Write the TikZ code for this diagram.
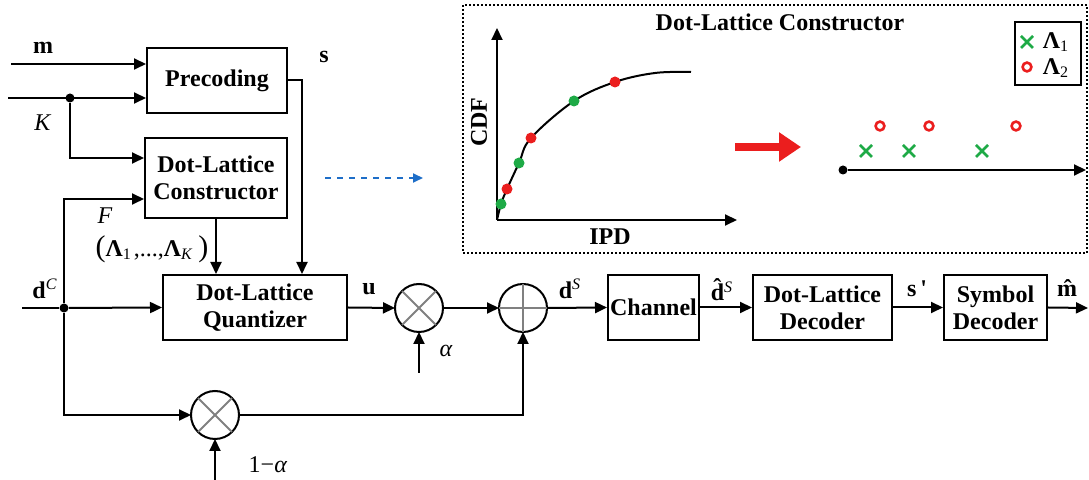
\documentclass[tikz,border=0pt]{standalone}
\usepackage{fontspec}
\setmainfont{Liberation Serif}
\usetikzlibrary{arrows.meta, positioning}
\definecolor{ptgreen}{RGB}{30,170,70}
\definecolor{ptred}{RGB}{235,30,30}
\definecolor{dashblue}{RGB}{30,110,200}
\newcommand{\hatd}{\textbf{\rlap{\kern0.11em\raisebox{0.22em}{ˆ}}d}}

\begin{document}
\begin{tikzpicture}[
        x=0.5pt, y=-0.5pt,
        font=\fontsize{12}{13.5}\selectfont,
        blk/.style={rectangle, draw, line width=1pt, inner sep=0pt, align=center, font=\fontsize{12}{13.5}\selectfont\bfseries},
        mix/.style={circle, draw, line width=1pt, minimum size=24pt, inner sep=0pt, outer sep=0pt},
        jdot/.style={circle, fill, minimum size=4.5pt, inner sep=0pt},
        arr/.style={-{Triangle[length=6pt, width=5.5pt]}, line width=1pt},
        cross/.style={gray, line width=1pt},
        lbl/.style={inner sep=0pt},
        bl/.style={inner sep=0pt, font=\fontsize{12}{13.5}\selectfont\bfseries},
        ptdot/.style={circle, minimum size=5.5pt, inner sep=0pt},
        xmark/.style={ptgreen, line width=1.4pt},
        omark/.style={ptred, line width=1.3pt}
        ]
        \useasboundingbox (0,0) rectangle (1089,480);

        % main chain
        \node[blk, minimum width=70pt, minimum height=32.5pt] (pre) at (217,80.5) {Precoding};
        \node[blk, minimum width=71pt, minimum height=40pt] (con) at (216,178) {Dot-Lattice\\Constructor};
        \node[blk, minimum width=92pt, minimum height=32.5pt] (qnt) at (255,307.5) {Dot-Lattice\\Quantizer};
        \node[mix] (mul1) at (419,308) {};
        \node[mix] (add) at (523,308) {};
        \node[mix] (mul2) at (215,415) {};
        \node[blk, minimum width=45.5pt, minimum height=32.5pt] (chn) at (653.5,307.5) {Channel};
        \node[blk, minimum width=69.5pt, minimum height=32.5pt] (dec) at (822.5,307.5) {Dot-Lattice\\Decoder};
        \node[blk, minimum width=51.5pt, minimum height=32.5pt] (sym) at (995.5,307.5) {Symbol\\Decoder};
        \draw[cross] (mul1.north west) -- (mul1.south east) (mul1.north east) -- (mul1.south west);
        \draw[cross] (mul2.north west) -- (mul2.south east) (mul2.north east) -- (mul2.south west);
        \draw[cross] (add.north) -- (add.south) (add.west) -- (add.east);

        \node[jdot] (jk) at (70,98) {};
        \node[jdot] (jd) at (64,308) {};
        \coordinate (min) at (11,64);
        \coordinate (kin) at (8,98);
        \coordinate (dcin) at (22,308);
        \coordinate (alin) at (419,373);
        \coordinate (oain) at (215,480);
        \coordinate (mout) at (1088,308);

        \draw[arr] (min) -- (min -| pre.west);
        \draw[arr] (kin) -- (kin -| pre.west);
        \draw[arr] (jk) |- ([yshift=10pt]con.west);
        \draw[arr] (jd) |- ([yshift=-10.5pt]con.west);
        \draw[arr] (con.south) -- (con.south |- qnt.north);
        \draw[arr] (pre.east) -| ([xshift=23.5pt]qnt.north);
        \draw[line width=1pt] (dcin) -- (jd);
        \draw[arr] (jd) -- (qnt.west);
        \draw[arr] (qnt.east) -- (mul1.west);
        \draw[arr] (alin) -- (mul1.south);
        \draw[arr] (mul1.east) -- (add.west);
        \draw[arr] (add.east) -- (chn.west);
        \draw[arr] (chn.east) -- (dec.west);
        \draw[arr] (dec.east) -- (sym.west);
        \draw[arr] (sym.east) -- (mout);
        \draw[arr] (jd) |- (mul2.west);
        \draw[arr] (mul2.east) -| (add.south);
        \draw[arr] (oain) -- (mul2.south);

        % labels
        \node[bl] (lm) at (43,48) {m};
        \node[lbl] (lk) at (43,123) {\textit{K}};
        \node[bl] (ls) at (324,57) {s};
        \node[lbl] (lf) at (105,216) {\textit{F}};
        \node[lbl] (llam) at (152,249) {\fontsize{15}{15}\selectfont(\fontsize{12}{13.5}\selectfont\textbf{Λ}\textsubscript{1}\kern1pt,...,\textbf{Λ}\textsubscript{\textit{K}}\fontsize{15}{15}\selectfont\,)};
        \node[lbl] (ldc) at (45,289) {\textbf{d}\textsuperscript{\textit{C}}};
        \node[bl] (lu) at (369,289) {u};
        \node[lbl] (lal) at (446,351) {\textit{α}};
        \node[lbl] (loa) at (268,465) {1−\textit{α}};
        \node[lbl] (lds) at (570,289) {\textbf{d}\textsuperscript{\textit{S}}};
        \node[lbl] (ldh) at (722,290) {\hatd\textsuperscript{\textit{S}}};
        \node[bl] (lsp) at (917,289) {s\,\textquotesingle};
        \node[bl] (lmh) at (1067,288) {\^{m}};

        % dashed pointer to the inset
        \coordinate (dsa) at (325,178);
        \coordinate (dsb) at (423,178);
        \draw[arr, dashblue, dashed, line width=0.9pt, -{Triangle[length=5pt, width=4.5pt]}] (dsa) -- (dsb);

        % inset: dot-lattice constructor
        \draw[densely dotted, line width=1pt] (463,5) rectangle (1087,253);
        \node[bl] (ttl) at (780,22) {Dot-Lattice Constructor};
        \coordinate (o) at (497,220);
        \coordinate (ytop) at (497,28);
        \coordinate (xend) at (737,220);
        \draw[arr] (o) -- (ytop);
        \draw[arr] (o) -- (xend);
        \node[bl, rotate=90] (lcdf) at (479,122) {CDF};
        \node[bl] (lipd) at (610,237) {IPD};
        \draw[line width=1pt] plot[smooth, tension=0.6] coordinates {(497,220) (501,204) (507,189) (519,163) (531,138) (574,101) (615,82) (655,73) (691,72)};
        \foreach \px/\py in {501/204, 519/163, 574/101}
            \node[ptdot, fill=ptgreen] at (\px,\py) {};
        \foreach \px/\py in {507/189, 531/138, 615/82}
            \node[ptdot, fill=ptred] at (\px,\py) {};
        \coordinate (rda) at (735,147);
        \coordinate (rdb) at (801,147);
        \draw[ptred, line width=4pt, -{Triangle[length=11pt, width=14pt]}] (rda) -- (rdb);
        \node[jdot] (nl) at (843,170) {};
        \coordinate (nlend) at (1086,170);
        \draw[arr] (nl) -- (nlend);
        \foreach \px in {866,909,982}
            \draw[xmark] (\px-6,145) -- (\px+6,157) (\px-6,157) -- (\px+6,145);
        \foreach \px in {880,929,1016}
            \draw[omark] (\px,126) circle[radius=2.2pt];
        % legend
        \draw[line width=1pt] (1015,22) rectangle (1081,85);
        \draw[xmark] (1021,36) -- (1033,48) (1021,48) -- (1033,36);
        \draw[omark] (1027,67) circle[radius=2.2pt];
        \node[lbl] (lg1) at (1056,42) {\textbf{Λ}\textsubscript{1}};
        \node[lbl] (lg2) at (1056,68) {\textbf{Λ}\textsubscript{2}};
    \end{tikzpicture}
\end{document}
